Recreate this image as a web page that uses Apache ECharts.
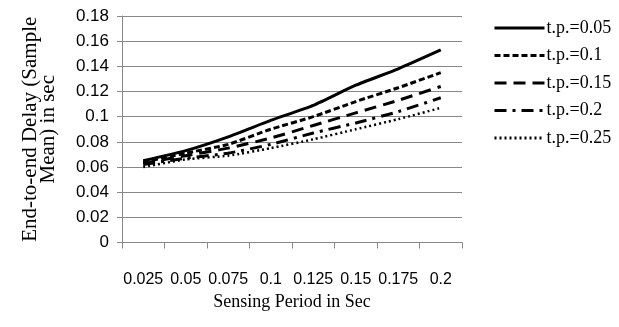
<!DOCTYPE html>
<html>
<head>
<meta charset="utf-8">
<script src="https://cdn.jsdelivr.net/npm/echarts@6/dist/echarts.min.js"></script>
<style>
html,body{margin:0;padding:0;background:#fff;}
#chart{width:619px;height:327px;}
</style>
</head>
<body>
<div id="chart"></div>
<script>
const categories = ['0.025','0.05','0.075','0.1','0.125','0.15','0.175','0.2'];
const seriesNames = ['t.p.=0.05','t.p.=0.1','t.p.=0.15','t.p.=0.2','t.p.=0.25'];
const tp005 = [0.065, 0.073, 0.084, 0.097, 0.109, 0.125, 0.138, 0.153];
const tp010 = [0.064, 0.071, 0.078, 0.090, 0.100, 0.112, 0.123, 0.135];
const tp015 = [0.063, 0.069, 0.075, 0.083, 0.093, 0.103, 0.113, 0.124];
const tp020 = [0.062, 0.067, 0.071, 0.078, 0.087, 0.095, 0.104, 0.115];
const tp025 = [0.060, 0.066, 0.069, 0.075, 0.082, 0.090, 0.098, 0.107];
const seriesData = [tp005, tp010, tp015, tp020, tp025];
const dashTypes = ['solid', [6,3], [12,7], [12,6,3,6], [2,3]];
const widths = [3, 3, 3, 3, 2.5];

const chart = echarts.init(document.getElementById('chart'));
const sans = "'Liberation Sans', Arial, sans-serif";
const serif = "'Liberation Serif', 'Times New Roman', serif";
chart.setOption({
  animation: false,
  backgroundColor: '#fff',
  grid: { left: 122, right: 157, top: 16, bottom: 84.5, containLabel: false },
  legend: {
    orient: 'vertical',
    left: 488,
    top: 14,
    itemWidth: 50,
    itemHeight: 14,
    itemGap: 9.5,
    data: seriesNames,
    itemStyle: { opacity: 0, borderWidth: 0 },
    lineStyle: { width: 3 },
    textStyle: { fontFamily: serif, fontSize: 18, color: '#000', lineHeight: 18, padding: [0,0,0,-3] }
  },
  xAxis: {
    type: 'category',
    data: categories,
    boundaryGap: true,
    name: 'Sensing Period in Sec',
    nameLocation: 'middle',
    nameGap: 51,
    nameTextStyle: { fontFamily: serif, fontSize: 18, color: '#000' },
    axisLine: { lineStyle: { color: '#888', width: 1 } },
    axisTick: { show: true, length: 6, lineStyle: { color: '#888' } },
    axisLabel: { fontFamily: sans, fontSize: 16, color: '#000', margin: 29, interval: 0 },
    splitLine: { show: false }
  },
  yAxis: {
    type: 'value',
    min: 0,
    max: 0.18,
    interval: 0.02,
    name: 'End-to-end Delay (Sample\nMean) in sec',
    nameLocation: 'middle',
    nameGap: 65,
    nameRotate: 90,
    nameTextStyle: { fontFamily: serif, fontSize: 21, color: '#000', lineHeight: 18 },
    axisLine: { show: true, lineStyle: { color: '#888', width: 1 } },
    axisTick: { show: true, length: 5, lineStyle: { color: '#888' } },
    axisLabel: {
      fontFamily: sans, fontSize: 17, color: '#000', margin: 13,
      formatter: v => String(parseFloat(v.toFixed(2)))
    },
    splitLine: { show: true, lineStyle: { color: '#888', width: 1 } }
  },
  series: seriesNames.map((n, i) => ({
    name: n,
    type: 'line',
    data: seriesData[i],
    symbol: 'none',
    smooth: 0.2,
    lineStyle: { color: '#000', width: widths[i], type: dashTypes[i], cap: 'butt' },
    itemStyle: { color: '#000' }
  }))
});
</script>
</body>
</html>
